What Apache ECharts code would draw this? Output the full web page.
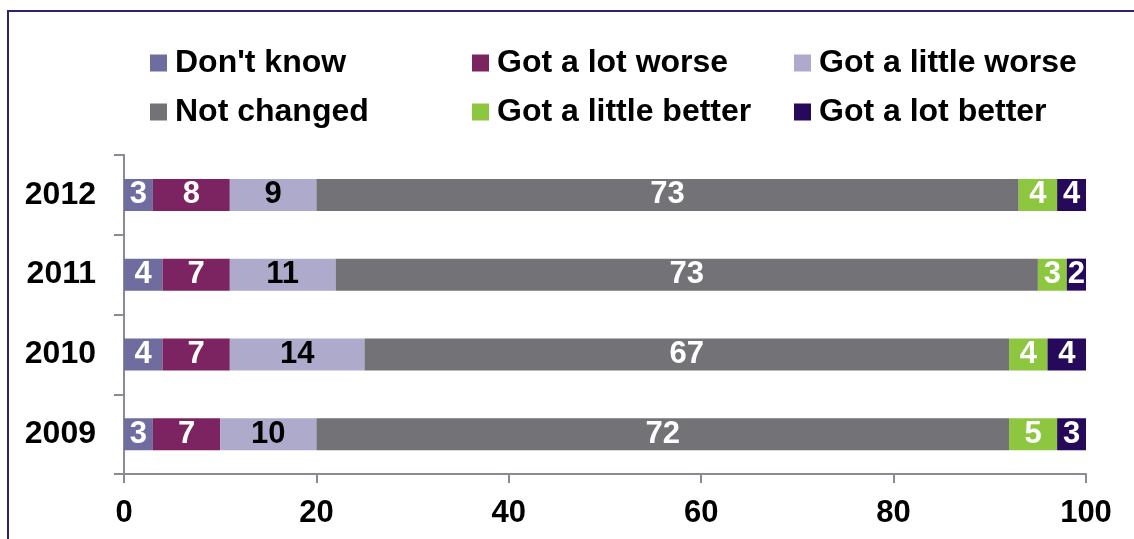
<!DOCTYPE html>
<html>
<head>
<meta charset="utf-8">
<script src="https://cdn.jsdelivr.net/npm/echarts@6/dist/echarts.min.js"></script>
<style>
  html, body { margin: 0; padding: 0; background: #ffffff; }
  #chart { width: 1134px; height: 539px; }
</style>
</head>
<body>
<div id="chart"></div>
<script>
// Survey years, bottom to top on the category axis
const years = ['2009', '2010', '2011', '2012'];

// Response categories (stack order, left to right)
const seriesNames = ['Don\'t know', 'Got a lot worse', 'Got a little worse', 'Not changed', 'Got a little better', 'Got a lot better'];

// Percentages per year (2009, 2010, 2011, 2012)
const dontKnow         = [3, 4, 4, 3];
const gotLotWorse      = [7, 7, 7, 8];
const gotLittleWorse   = [10, 14, 11, 9];
const notChanged       = [72, 67, 73, 73];
const gotLittleBetter  = [5, 4, 3, 4];
const gotLotBetter     = [3, 4, 2, 4];

// X axis ticks
const xTicks = [0, 20, 40, 60, 80, 100];

const values = [dontKnow, gotLotWorse, gotLittleWorse, notChanged, gotLittleBetter, gotLotBetter];
const colors = ['#6f6d9f', '#7b2461', '#aeaacb', '#737276', '#8dc63f', '#26095b'];
const labelColors = ['#ffffff', '#ffffff', '#000000', '#ffffff', '#ffffff', '#ffffff'];

const FONT = '"Liberation Sans", Arial, sans-serif';

const series = seriesNames.map((name, i) => ({
  name: name,
  type: 'bar',
  stack: 'total',
  barWidth: 32,
  data: values[i],
  itemStyle: { color: colors[i] },
  label: {
    show: true,
    position: 'inside',
    color: labelColors[i],
    fontFamily: FONT,
    fontWeight: 'bold',
    fontSize: 31
  },
  emphasis: { disabled: true }
}));

// Legend laid out as three columns of two rows
function legendColumn(left, names) {
  return {
    orient: 'vertical',
    left: left,
    top: 42,
    itemWidth: 17,
    itemHeight: 17,
    itemGap: 17,
    icon: 'rect',
    selectedMode: false,
    data: names,
    textStyle: {
      fontFamily: FONT,
      fontWeight: 'bold',
      fontSize: 32,
      lineHeight: 32,
      color: '#000000',
      padding: [0, 0, 0, 3]
    }
  };
}

const chart = echarts.init(document.getElementById('chart'), null, { renderer: 'canvas' });
chart.setOption({
  animation: false,
  backgroundColor: '#ffffff',
  graphic: [{
    type: 'rect',
    shape: { x: 8, y: 11, width: 1200, height: 600 },
    style: { fill: 'none', stroke: '#33206e', lineWidth: 2 },
    silent: true
  }],
  legend: [
    legendColumn(145, [seriesNames[0], seriesNames[3]]),
    legendColumn(467, [seriesNames[1], seriesNames[4]]),
    legendColumn(789, [seriesNames[2], seriesNames[5]])
  ],
  grid: { left: 124, right: 48, top: 155, bottom: 65, containLabel: false },
  xAxis: {
    type: 'value',
    min: xTicks[0],
    max: xTicks[xTicks.length - 1],
    interval: xTicks[1] - xTicks[0],
    axisLine: { show: true, lineStyle: { color: '#8a8a96', width: 2 } },
    axisTick: { show: true, length: 9, lineStyle: { color: '#8a8a96', width: 2 } },
    splitLine: { show: false },
    axisLabel: {
      margin: 24,
      color: '#000000',
      fontFamily: FONT,
      fontWeight: 'bold',
      fontSize: 31
    }
  },
  yAxis: {
    type: 'category',
    data: years,
    axisLine: { show: true, lineStyle: { color: '#8a8a96', width: 2 } },
    axisTick: { show: true, length: 10, lineStyle: { color: '#8a8a96', width: 2 } },
    splitLine: { show: false },
    axisLabel: {
      margin: 28,
      color: '#000000',
      fontFamily: FONT,
      fontWeight: 'bold',
      fontSize: 32
    }
  },
  series: series
});
</script>
</body>
</html>
